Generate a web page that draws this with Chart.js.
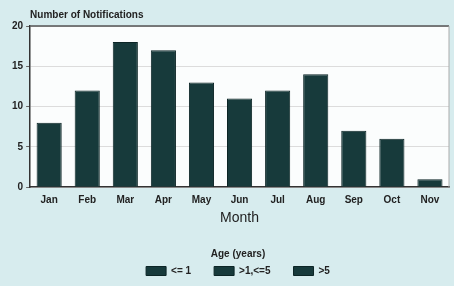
<!DOCTYPE html>
<html>
<head>
<meta charset="utf-8">
<script src="https://cdn.jsdelivr.net/npm/chart.js@4/dist/chart.umd.min.js"></script>
<style>
  html, body { margin: 0; padding: 0; background: #d7ecee; }
  #wrap { width: 454px; height: 286px; }
</style>
</head>
<body>
<div id="wrap"><canvas id="myChart" width="454" height="286"></canvas></div>
<script>
var months = ["Jan", "Feb", "Mar", "Apr", "May", "Jun", "Jul", "Aug", "Sep", "Oct", "Nov"];
var notifications = [8, 12, 18, 17, 13, 11, 12, 14, 7, 6, 1];
var ageGroups = ["<= 1", ">1,<=5", ">5"];
var yTicks = [0, 5, 10, 15, 20];

var barColor = "#173a3b";
var textColor = "#222222";
var fontFam = "'Liberation Sans', Arial, sans-serif";

// white plot area + frame, and the y title drawn at the axis
var plotBox = {
  id: "plotBox",
  afterLayout: function(chart) {
    // legend sits under the plot, not the canvas middle
    chart.legend.left += 9;
    chart.legend.right += 9;
  },
  beforeDraw: function(chart) {
    var a = chart.chartArea, ctx = chart.ctx;
    ctx.save();
    ctx.fillStyle = "#fbfdfd";
    ctx.fillRect(a.left, a.top, a.right - a.left, a.bottom - a.top);
    ctx.restore();
  },
  afterDraw: function(chart) {
    var a = chart.chartArea, ctx = chart.ctx;
    ctx.save();
    ctx.strokeStyle = "#555";
    ctx.lineWidth = 1.5;
    ctx.beginPath();
    ctx.moveTo(a.left, a.top);
    ctx.lineTo(a.right, a.top);
    ctx.stroke();
    ctx.strokeStyle = "#aaa";
    ctx.lineWidth = 1;
    ctx.beginPath();
    ctx.moveTo(a.right, a.top);
    ctx.lineTo(a.right, a.bottom);
    ctx.stroke();
    ctx.fillStyle = textColor;
    ctx.font = "bold 10px " + fontFam;
    ctx.textBaseline = "middle";
    ctx.fillText("Number of Notifications", a.left, 15);
    ctx.restore();
  }
};

var chart = new Chart("myChart", {
  type: "bar",
  data: {
    labels: months,
    datasets: [{
      label: "Notifications",
      data: notifications,
      backgroundColor: barColor,
      borderColor: "#0c2526",
      borderWidth: 1,
      barPercentage: 0.66,
      categoryPercentage: 1
    }]
  },
  options: {
    responsive: false,
    animation: false,
    layout: { padding: { top: 26, right: 5, left: 9, bottom: 0 } },
    scales: {
      x: {
        grid: { display: false, drawTicks: false },
        border: { color: "#333", width: 1.5 },
        ticks: { color: textColor, font: { family: fontFam, size: 10, weight: "bold" }, padding: 7 },
        title: { display: true, text: "Month", color: textColor, font: { family: fontFam, size: 14 }, padding: { top: -3, bottom: 22 } }
      },
      y: {
        min: 0,
        max: 20,
        afterBuildTicks: function(axis) {
          axis.ticks = yTicks.map(function(v) { return { value: v }; });
        },
        grid: { color: "#dcdcdc", tickColor: "#666", tickLength: 4, drawOnChartArea: true },
        border: { color: "#333", width: 1.5, dash: [] },
        ticks: { color: textColor, font: { family: fontFam, size: 10, weight: "bold" }, padding: 3 }
      }
    },
    plugins: {
      tooltip: { enabled: false },
      legend: {
        position: "bottom",
        title: { display: true, text: "Age (years)", color: textColor, font: { family: fontFam, size: 10, weight: "bold" }, padding: { top: 0, bottom: -18 } },
        labels: {
          boxWidth: 20,
          boxHeight: 9,
          padding: 23,
          color: textColor,
          font: { family: fontFam, size: 10, weight: "bold" },
          generateLabels: function() {
            return ageGroups.map(function(g, i) {
              return { text: g, fillStyle: barColor, strokeStyle: "#0c2526", lineWidth: 1, datasetIndex: 0, index: i, fontColor: textColor };
            });
          }
        }
      }
    }
  },
  plugins: [plotBox]
});
</script>
</body>
</html>
